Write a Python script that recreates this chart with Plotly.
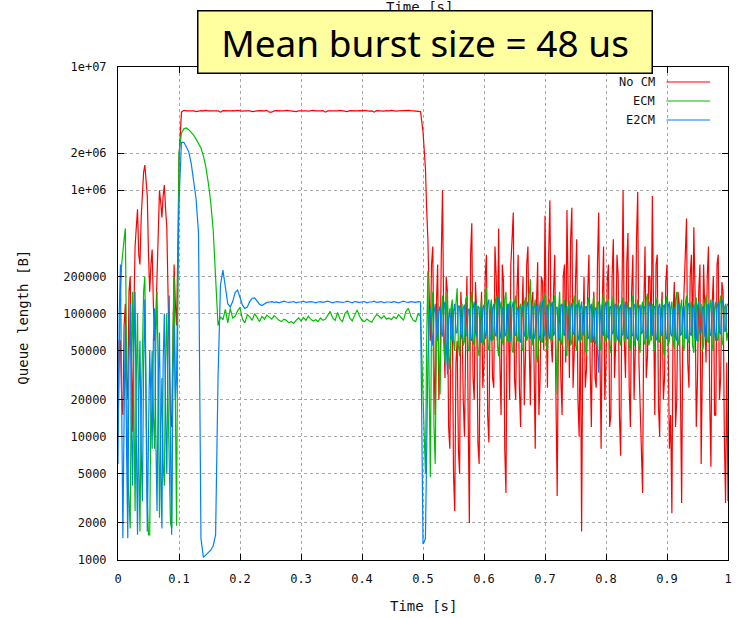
import numpy as np
import plotly.graph_objects as go

# ---------------- data (queue length in kB) ----------------
# segment A: 0 .. 0.098 s every 2 ms; segment B: 0.100 .. 0.496 s every 4 ms;
# segment C: 0.500 .. 1.000 s every 2 ms
step_a, start_a = 0.002, 0.0
step_b, start_b = 0.004, 0.1
step_c, start_c = 0.002, 0.5

no_cm_a_kB = [
    27, 60, 60, 20, 15, 80, 120, 30, 20, 150,
    200, 30, 11, 100, 350, 500, 700, 300, 250, 600,
    1100, 1400, 1600, 1200, 900, 300, 150, 250, 330, 120,
    60, 90, 200, 500, 1000, 800, 600, 900, 1100, 700,
    500, 150, 40, 15, 12, 80, 250, 120, 80, 300,
]
no_cm_b_kB = [
    1800, 4300, 4450, 4400, 4420, 4380, 4400, 4350, 4400, 4420,
    4400, 4450, 4400, 4380, 4420, 4400, 4400, 4300, 4420, 4400,
    4380, 4400, 4420, 4400, 4450, 4400, 4380, 4400, 4420, 4400,
    4350, 4400, 4400, 4420, 4380, 4400, 4450, 4300, 4300, 4400,
    4420, 4380, 4400, 4400, 4450, 4420, 4380, 4400, 4350, 4400,
    4420, 4400, 4400, 4380, 4420, 4450, 4400, 4380, 4400, 4420,
    4300, 4400, 4400, 4420, 4380, 4400, 4450, 4400, 4400, 4350,
    4420, 4400, 4380, 4400, 4420, 4400, 4450, 4400, 4380, 4400,
    4300, 4420, 4400, 4400, 4380, 4420, 4400, 4450, 4400, 4380,
    4400, 4420, 4400, 4400, 4450, 4420, 4400, 4380, 4400, 4350,
]
no_cm_c_kB = [
    3000, 2200, 1500, 700, 400, 150, 60, 250, 350, 40,
    15, 120, 250, 20, 40, 300, 1000, 80, 30, 200,
    150, 12, 8, 90, 120, 5, 2.5, 40, 60, 8,
    5, 150, 90, 20, 10, 60, 200, 15, 2, 300,
    540, 30, 20, 180, 100, 9, 6, 80, 150, 25,
    40, 200, 300, 15, 9, 100, 120, 30, 25, 350,
    200, 60, 490, 40, 15, 250, 180, 8, 3.5, 120,
    90, 20, 250, 400, 660, 30, 20, 150, 300, 25,
    12, 90, 200, 18, 45, 250, 350, 60, 18, 120,
    150, 40, 8, 120, 260, 15, 30, 200, 180, 50,
    620, 90, 25, 300, 830, 60, 40, 150, 300, 20,
    3.3, 80, 120, 30, 15, 200, 250, 40, 690, 150,
    30, 400, 720, 25, 50, 180, 400, 20, 10, 100,
    1.7, 60, 200, 25, 35, 150, 300, 40, 12, 90,
    150, 30, 25, 250, 660, 50, 8, 120, 350, 20,
    40, 180, 250, 12, 15, 200, 400, 30, 60, 300,
    200, 15, 7, 120, 1000, 60, 30, 250, 450, 25,
    12, 150, 300, 20, 50, 400, 970, 40, 20, 8,
    3.5, 120, 350, 30, 45, 200, 200, 60, 900, 100,
    15, 250, 300, 18, 10, 90, 150, 20, 30, 180,
    250, 50, 8, 15, 2.4, 100, 180, 12, 20, 150,
    120, 25, 2.9, 80, 200, 300, 590, 40, 25, 200,
    300, 60, 500, 150, 12, 30, 150, 250, 6, 50,
    250, 100, 40, 200, 350, 20, 5.7, 120, 200, 15,
    15, 250, 300, 20, 30, 180, 150, 10, 2.9, 40,
    3,
]

ecm_a_kB = [
    10, 60, 150, 250, 300, 400, 490, 50, 5, 3,
    1.8, 40, 150, 20, 2.5, 30, 100, 8, 1.7, 15,
    60, 150, 200, 20, 3, 1.6, 1.6, 20, 50, 15,
    8, 60, 150, 30, 2.2, 10, 30, 6, 4, 40,
    100, 20, 6, 2, 1.8, 60, 200, 20, 1.9, 100,
]
ecm_b_kB = [
    2000, 2900, 3150, 3200, 3100, 2950, 2800, 2600, 2400, 2200,
    1900, 1550, 1150, 800, 480, 200, 80, 94, 89, 108,
    84, 110, 92, 95, 105, 112, 90, 84, 98, 94,
    88, 100, 92, 86, 95, 90, 97, 93, 90, 96,
    91, 88, 86, 90, 88, 84, 86, 83, 88, 92,
    87, 93, 88, 95, 90, 87, 89, 86, 92, 88,
    90, 96, 104, 92, 88, 102, 90, 86, 100, 105,
    92, 87, 98, 107, 95, 88, 86, 90, 87, 85,
    92, 98, 95, 91, 96, 90, 92, 89, 94, 91,
    98, 93, 88, 104, 110, 96, 88, 86, 100, 95,
]
ecm_c_kB = [
    20, 8, 5, 60, 220, 30, 4.7, 90, 150, 12,
    6, 60, 120, 40, 22, 90, 140, 60, 40, 100,
    150, 45, 35, 110, 130, 60, 50, 120, 160, 55,
    45, 110, 120, 55, 60, 130, 140, 50, 50, 120,
    150, 60, 55, 110, 120, 50, 45, 100, 130, 55,
    60, 140, 160, 55, 50, 110, 130, 60, 65, 120,
    140, 55, 45, 110, 125, 60, 55, 130, 150, 60,
    60, 120, 130, 50, 48, 120, 140, 60, 60, 110,
    120, 50, 52, 120, 135, 60, 65, 140, 190, 70,
    55, 110, 130, 45, 40, 100, 125, 60, 58, 120,
    145, 55, 50, 120, 130, 60, 62, 120, 140, 50,
    22, 100, 150, 60, 55, 110, 130, 50, 45, 110,
    125, 55, 60, 120, 140, 55, 50, 110, 130, 60,
    62, 110, 120, 50, 48, 120, 135, 60, 58, 110,
    140, 60, 55, 120, 125, 55, 50, 120, 150, 60,
    60, 120, 130, 55, 48, 110, 140, 60, 58, 110,
    120, 60, 55, 120, 135, 60, 62, 110, 125, 55,
    50, 120, 140, 55, 60, 110, 130, 55, 48, 110,
    125, 60, 56, 130, 145, 55, 60, 110, 120, 55,
    50, 120, 135, 60, 58, 110, 130, 50, 45, 120,
    140, 55, 60, 110, 125, 60, 52, 130, 150, 55,
    60, 110, 130, 55, 50, 120, 140, 60, 58, 110,
    125, 55, 48, 120, 135, 60, 60, 110, 120, 50,
    55, 120, 140, 60, 58, 110, 130, 55, 50, 110,
    125, 60, 62, 120, 140, 60, 55, 110, 120, 60,
    70,
]

e2cm_a_kB = [
    6, 100, 250, 20, 1.5, 15, 80, 8, 1.5, 40,
    120, 12, 4, 50, 150, 10, 1.6, 20, 60, 8,
    3, 40, 130, 15, 1.7, 10, 50, 20, 8, 60,
    110, 10, 2.5, 30, 70, 6, 1.8, 40, 100, 15,
    5, 60, 140, 8, 1.6, 30, 80, 20, 30, 200,
]
e2cm_b_kB = [
    800, 2450, 2450, 2250, 2050, 1650, 1200, 850, 450, 1.5,
    1.05, 1.1, 1.15, 1.2, 1.3, 1.6, 30, 170, 225, 160,
    120, 113, 125, 148, 155, 135, 117, 110, 113, 125,
    133, 134, 127, 119, 116, 120, 123, 124, 125, 123,
    124, 122, 124, 126, 124, 123, 124, 125, 122, 124,
    124, 126, 123, 124, 125, 124, 122, 124, 125, 123,
    124, 126, 124, 122, 124, 125, 124, 123, 124, 126,
    124, 122, 125, 124, 123, 124, 125, 122, 124, 124,
    126, 123, 124, 125, 122, 124, 124, 123, 125, 124,
    122, 124, 126, 124, 123, 125, 124, 123, 125, 124,
]
e2cm_c_kB = [
    1.35, 1.4, 1.5, 9.5, 40, 90, 110, 70, 55, 100,
    120, 75, 60, 105, 115, 70, 65, 110, 125, 60,
    32, 90, 110, 65, 60, 105, 120, 70, 70, 115,
    115, 68, 62, 110, 118, 65, 68, 105, 110, 62,
    60, 110, 125, 70, 65, 115, 112, 60, 58, 110,
    118, 62, 70, 120, 130, 65, 60, 110, 120, 68,
    65, 115, 135, 70, 62, 110, 115, 65, 68, 115,
    120, 65, 60, 112, 125, 68, 66, 110, 112, 62,
    58, 110, 118, 65, 70, 115, 125, 68, 62, 112,
    115, 62, 68, 115, 120, 66, 60, 112, 128, 70,
    65, 110, 118, 68, 62, 115, 125, 66, 70, 112,
    112, 65, 60, 115, 120, 68, 66, 110, 115, 64,
    62, 112, 122, 68, 68, 115, 118, 66, 60, 110,
    125, 66, 70, 112, 115, 62, 64, 110, 120, 66,
    58, 108, 112, 50, 33, 80, 118, 70, 66, 115,
    125, 66, 62, 112, 115, 68, 70, 115, 120, 65,
    60, 110, 118, 66, 68, 112, 125, 64, 62, 110,
    112, 66, 66, 115, 120, 64, 60, 110, 118, 68,
    70, 112, 115, 64, 62, 115, 125, 68, 66, 112,
    115, 64, 60, 112, 120, 66, 68, 115, 118, 64,
    62, 115, 125, 68, 65, 110, 112, 64, 60, 115,
    120, 66, 68, 112, 115, 64, 62, 115, 122, 68,
    66, 112, 118, 64, 60, 115, 125, 68, 70, 112,
    115, 66, 62, 115, 120, 68, 66, 118, 130, 70,
    60, 112, 125, 70, 68, 120, 130, 72, 72, 115,
    120,
]

series_names = ["No CM", "ECM", "E2CM"]
series_colors = ["#ff0000", "#00c000", "#0080ff"]
series_segments = [
    (no_cm_a_kB, no_cm_b_kB, no_cm_c_kB),
    (ecm_a_kB, ecm_b_kB, ecm_c_kB),
    (e2cm_a_kB, e2cm_b_kB, e2cm_c_kB),
]
y_tick_values = [1000, 2000, 5000, 10000, 20000, 50000, 100000, 200000, 1e6, 2e6, 1e7]
y_tick_labels = ["1000", "2000", "5000", "10000", "20000", "50000", "100000",
                 "200000", "1e+06", "2e+06", "1e+07"]
x_tick_values = [0, 0.1, 0.2, 0.3, 0.4, 0.5, 0.6, 0.7, 0.8, 0.9, 1.0]
x_tick_labels = ["0", "0.1", "0.2", "0.3", "0.4", "0.5", "0.6", "0.7", "0.8", "0.9", "1"]
title_text = "Mean burst size = 48 us"

# ---------------- figure ----------------
W, H = 739, 618
L, R, T, B = 118, 732, 67, 560

def px(x):
    return (x - L) / (R - L)

def py(y):
    return (B - y) / (B - T)

fig = go.Figure()
for name, segs, col in zip(series_names, series_segments, series_colors):
    ts, vs = [], []
    for vals, step, start in zip(segs, (step_a, step_b, step_c), (start_a, start_b, start_c)):
        ts.append(start + np.arange(len(vals)) * step)
        vs.append(np.array(vals, dtype=float) * 1000.0)
    t = np.round(np.concatenate(ts), 4)
    v = np.concatenate(vs)
    fig.add_trace(go.Scatter(x=t, y=v, mode="lines", name=name,
                             line=dict(color=col, width=1.2), showlegend=False))

mono = "DejaVu Sans Mono"
axis_common = dict(showline=True, linecolor="black", linewidth=1, mirror="ticks",
                   ticks="inside", ticklen=6, tickcolor="black",
                   showgrid=True, gridcolor="#a8a8a8", griddash="dot", gridwidth=1,
                   zeroline=False, tickfont=dict(family=mono, size=12, color="#111"))
fig.update_xaxes(range=[0, 1], tickvals=x_tick_values, ticktext=x_tick_labels,
                 ticklabelstandoff=8, **axis_common)
fig.update_yaxes(type="log", range=[3, 7], tickvals=y_tick_values, ticktext=y_tick_labels,
                 ticklabelstandoff=8, **axis_common)

annotations = []
annotations.append(dict(text="Time [s]", x=px(425), y=py(606), xref="paper", yref="paper",
                        showarrow=False, font=dict(family=mono, size=14, color="#111"),
                        xanchor="center", yanchor="middle"))
annotations.append(dict(text="Queue length [B]", x=px(22), y=py(317), xref="paper", yref="paper",
                        showarrow=False, textangle=-90, font=dict(family=mono, size=14, color="#111"),
                        xanchor="center", yanchor="middle"))
annotations.append(dict(text="Time [s]", x=px(421), y=py(7), xref="paper", yref="paper",
                        showarrow=False, font=dict(family=mono, size=14, color="#111"),
                        xanchor="center", yanchor="middle"))
annotations.append(dict(text=title_text, x=px(427), y=py(42), xref="paper", yref="paper",
                        showarrow=False, font=dict(family="Noto Sans", size=37, color="black"),
                        xanchor="center", yanchor="middle", width=453, height=61,
                        bgcolor="#ffff9f", bordercolor="black", borderwidth=1.5, borderpad=0))
shapes = []
for k, (name, col) in enumerate(zip(series_names, series_colors)):
    yy = 82 + 19 * k
    annotations.append(dict(text=name, x=px(661), y=py(yy), xref="paper", yref="paper",
                            showarrow=False, font=dict(family=mono, size=12, color="#111"),
                            xanchor="right", yanchor="middle"))
    shapes.append(dict(type="line", xref="paper", yref="paper", x0=px(670), x1=px(714),
                       y0=py(yy), y1=py(yy), line=dict(color=col, width=1.2)))

fig.update_layout(width=W, height=H, margin=dict(l=L, r=W - R, t=T, b=H - B),
                  paper_bgcolor="white", plot_bgcolor="white",
                  annotations=annotations, shapes=shapes, showlegend=False)
fig.write_html("out.html")
